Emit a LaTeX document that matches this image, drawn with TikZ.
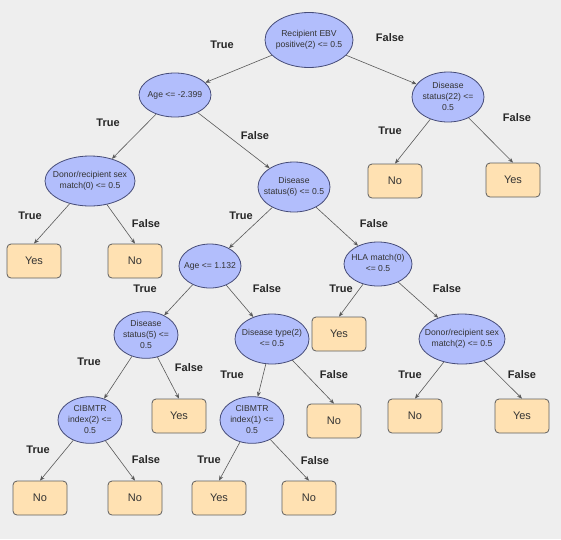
\documentclass[tikz,border=0pt]{standalone}
\usepackage{fontspec}
\setmainfont{Liberation Sans}
\usepackage{tikz}
\usetikzlibrary{shapes.geometric, arrows.meta}
\definecolor{bgray}{RGB}{238, 238, 238}
\definecolor{lightblue}{RGB}{178, 190, 252}
\definecolor{darkblue}{RGB}{70, 76, 120}
\definecolor{lightorange}{RGB}{255, 225, 178}
\definecolor{darkgray}{RGB}{95, 95, 95}
\newcommand{\ml}[1]{\makebox[0pt]{\begin{tabular}{@{}c@{}}#1\end{tabular}}}
\tikzset{
  split/.style={ellipse, draw=darkblue, fill=lightblue, line width=0.8,
    inner sep=0, text=black!80, font=\fontsize{8.6}{11}\selectfont},
  leaf/.style={rectangle, rounded corners=4, draw=darkgray, fill=lightorange,
    line width=0.8, minimum width=54, minimum height=34, inner sep=0,
    text=black!80, font=\fontsize{11}{12}\selectfont},
  lbl/.style={font=\fontsize{11}{12}\selectfont\bfseries, text=black!85},
  edge/.style={-{Stealth[length=5, width=4]}, draw=black!65, line width=0.6}
}

\begin{document}
\begin{tikzpicture}[x=1pt, y=-1pt]

  \fill[bgray] (0, 0) rectangle (561, 539);

  % split nodes
  \node[split, minimum width=88, minimum height=55] (root) at (309, 40) {\ml{Recipient EBV\\positive(2) <= 0.5}};
  \node[split, minimum width=72, minimum height=44] (agea) at (175, 95) {\ml{Age <= -2.399}};
  \node[split, minimum width=72, minimum height=50] (dstb) at (448, 97) {\ml{Disease\\status(22) <=\\0.5}};
  \node[split, minimum width=90, minimum height=50] (sexa) at (90, 181) {\ml{Donor/recipient sex\\match(0) <= 0.5}};
  \node[split, minimum width=72, minimum height=50] (dsta) at (294, 187) {\ml{Disease\\status(6) <= 0.5}};
  \node[split, minimum width=62, minimum height=44] (ageb) at (210, 266) {\ml{Age <= 1.132}};
  \node[split, minimum width=68, minimum height=44] (hla) at (378, 264) {\ml{HLA match(0)\\<= 0.5}};
  \node[split, minimum width=64, minimum height=46] (dstc) at (146, 335) {\ml{Disease\\status(5) <=\\0.5}};
  \node[split, minimum width=74, minimum height=50] (dtyp) at (272, 339) {\ml{Disease type(2)\\<= 0.5}};
  \node[split, minimum width=86, minimum height=50] (sexb) at (462, 339) {\ml{Donor/recipient sex\\match(2) <= 0.5}};
  \node[split, minimum width=64, minimum height=44] (cibb) at (90, 420) {\ml{CIBMTR\\index(2) <=\\0.5}};
  \node[split, minimum width=64, minimum height=44] (ciba) at (252, 420) {\ml{CIBMTR\\index(1) <=\\0.5}};

  % leaves
  \node[leaf] (la) at (395, 181) {No};
  \node[leaf] (lb) at (513, 180) {Yes};
  \node[leaf] (lc) at (34, 261) {Yes};
  \node[leaf] (ld) at (135, 261) {No};
  \node[leaf] (le) at (339, 334) {Yes};
  \node[leaf] (lf) at (179, 416) {Yes};
  \node[leaf] (lg) at (334, 421) {No};
  \node[leaf] (lh) at (415, 416) {No};
  \node[leaf] (li) at (522, 416) {Yes};
  \node[leaf] (lj) at (40, 498) {No};
  \node[leaf] (lk) at (135, 498) {No};
  \node[leaf] (ll) at (219, 498) {Yes};
  \node[leaf] (lm) at (309, 498) {No};

  % edges
  \draw[edge] (root) -- (agea);
  \draw[edge] (root) -- (dstb);
  \draw[edge] (agea) -- (sexa);
  \draw[edge] (agea) -- (dsta);
  \draw[edge] (dstb) -- (la.north);
  \draw[edge] (dstb) -- (lb.north);
  \draw[edge] (sexa) -- (lc.north);
  \draw[edge] (sexa) -- (ld.north);
  \draw[edge] (dsta) -- (ageb);
  \draw[edge] (dsta) -- (hla);
  \draw[edge] (ageb) -- (dstc);
  \draw[edge] (ageb) -- (dtyp);
  \draw[edge] (hla) -- (le.north);
  \draw[edge] (hla) -- (sexb);
  \draw[edge] (dstc) -- (cibb);
  \draw[edge] (dstc) -- (lf.north);
  \draw[edge] (dtyp) -- (ciba);
  \draw[edge] (dtyp) -- (lg.north);
  \draw[edge] (sexb) -- (lh.north);
  \draw[edge] (sexb) -- (li.north);
  \draw[edge] (cibb) -- (lj.north);
  \draw[edge] (cibb) -- (lk.north);
  \draw[edge] (ciba) -- (ll.north);
  \draw[edge] (ciba) -- (lm.north);

  % edge labels
  \node[lbl] (ta) at (222, 45) {True};
  \node[lbl] (fa) at (390, 38) {False};
  \node[lbl] (tb) at (108, 123) {True};
  \node[lbl] (fb) at (255, 136) {False};
  \node[lbl] (tc) at (390, 131) {True};
  \node[lbl] (fc) at (517, 118) {False};
  \node[lbl] (td) at (30, 216) {True};
  \node[lbl] (fd) at (146, 224) {False};
  \node[lbl] (te) at (241, 216) {True};
  \node[lbl] (fe) at (374, 224) {False};
  \node[lbl] (tf) at (145, 289) {True};
  \node[lbl] (ff) at (267, 289) {False};
  \node[lbl] (tg) at (341, 289) {True};
  \node[lbl] (fg) at (447, 289) {False};
  \node[lbl] (th) at (89, 362) {True};
  \node[lbl] (fh) at (189, 368) {False};
  \node[lbl] (ti) at (232, 375) {True};
  \node[lbl] (fi) at (334, 375) {False};
  \node[lbl] (tj) at (410, 375) {True};
  \node[lbl] (fj) at (522, 375) {False};
  \node[lbl] (tk) at (38, 450) {True};
  \node[lbl] (fk) at (146, 460) {False};
  \node[lbl] (tl) at (209, 460) {True};
  \node[lbl] (fl) at (315, 461) {False};

\end{tikzpicture}
\end{document}
